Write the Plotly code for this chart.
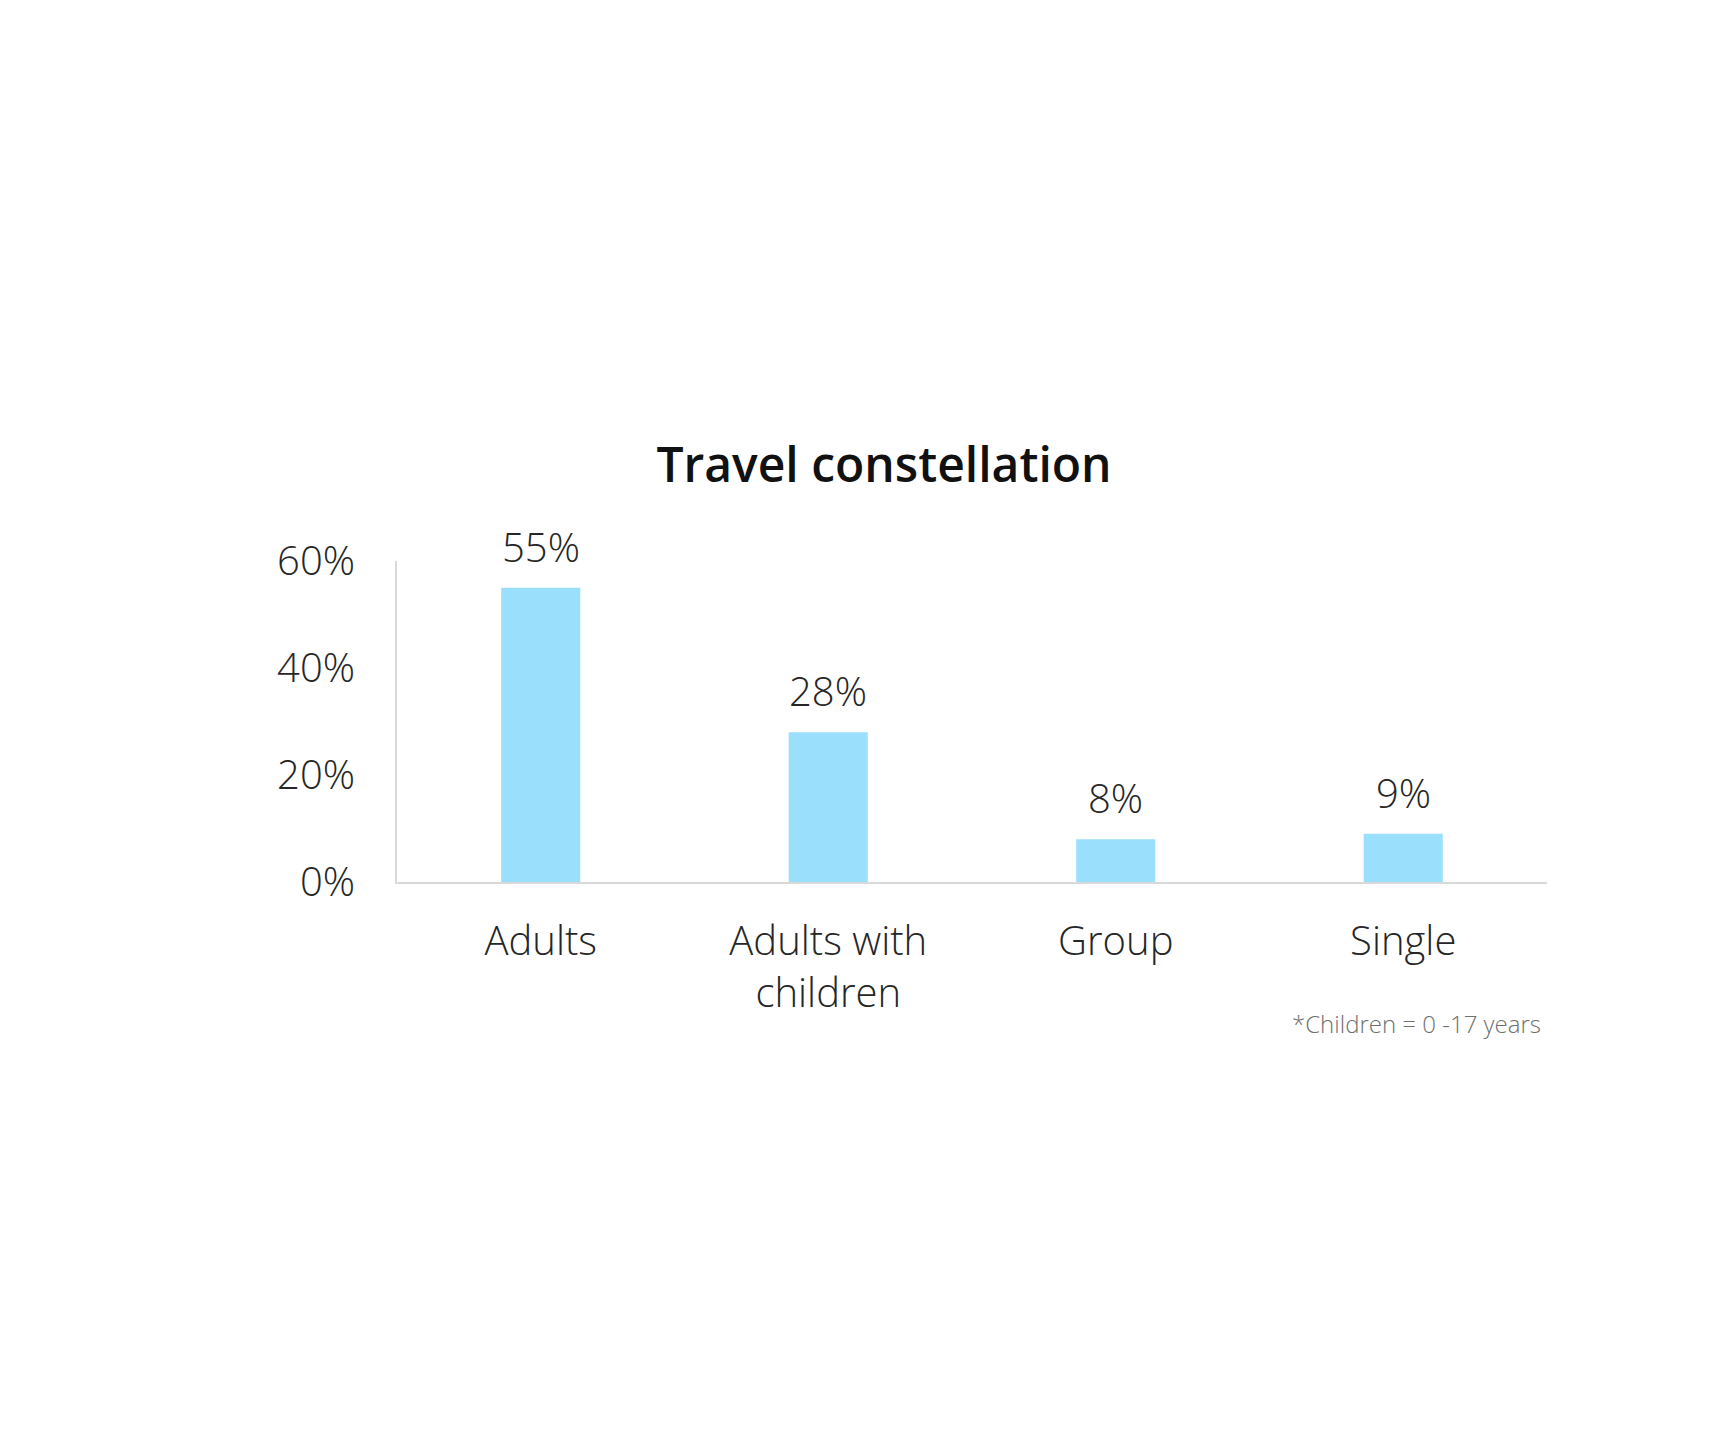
import plotly.graph_objects as go

categories = ["Adults", "Adults with children", "Group", "Single"]
tick_labels = ["Adults", "Adults with<br>children", "Group", "Single"]
values = [55, 28, 8, 9]
value_labels = ["55%", "28%", "8%", "9%"]
y_ticks = [0, 20, 40, 60]
y_tick_labels = ["0%", "20%", "40%", "60%"]

FONT = "Open Sans"
TXT = "#262626"
BAR = "#9ADFFB"
AXIS = "#D9D9D9"

fig = go.Figure()
fig.add_trace(go.Bar(
    x=categories, y=values, marker=dict(color=BAR, line=dict(width=0)),
    hoverinfo="skip",
))

for c, v, t in zip(categories, values, value_labels):
    fig.add_annotation(
        x=c, y=v, text=t, showarrow=False, yanchor="bottom", yshift=12,
        font=dict(family=FONT, size=40, color=TXT, weight=300),
    )

fig.add_annotation(
    xref="paper", yref="paper", x=0.9965, y=-0.44, xanchor="right", yanchor="middle",
    text="*Children = 0 -17 years", showarrow=False,
    font=dict(family=FONT, size=24, color="#707070", weight=300),
)

fig.update_layout(
    width=1720, height=1440,
    margin=dict(l=389, r=181, t=553, b=566, pad=0),
    paper_bgcolor="white", plot_bgcolor="white",
    bargap=0.725, showlegend=False,
    title=dict(
        text="Travel constellation", x=876 / 1720, xanchor="center",
        y=1 - 457 / 1440, yanchor="middle", xref="container", yref="container",
        font=dict(family=FONT, size=48, color="#111111", weight=600),
    ),
    xaxis=dict(
        type="category", tickvals=categories, ticktext=tick_labels,
        showline=True, linecolor=AXIS, linewidth=2, showgrid=False,
        ticks="", ticklabelstandoff=23,
        tickfont=dict(family=FONT, size=40, color=TXT, weight=300),
    ),
    yaxis=dict(
        range=[0, 60], tickvals=y_ticks, ticktext=y_tick_labels,
        showline=True, linecolor=AXIS, linewidth=2, showgrid=False, zeroline=False,
        ticks="", ticklabelstandoff=32,
        tickfont=dict(family=FONT, size=40, color=TXT, weight=300),
    ),
)

fig.write_html("out.html")
